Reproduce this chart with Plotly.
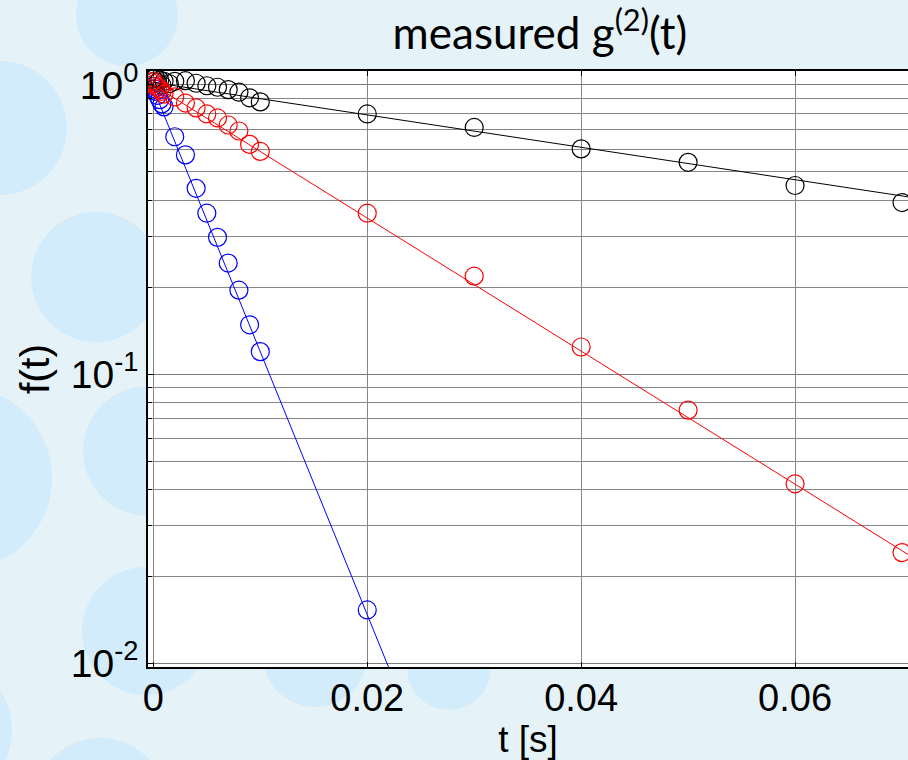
import plotly.graph_objects as go

# ---------------- data ----------------
t_black = [0, 0.0001, 0.0002, 0.0004, 0.0006, 0.0008, 0.001, 0.0015, 0.002,
           0.003, 0.004, 0.005, 0.006, 0.007, 0.008, 0.009, 0.010,
           0.02, 0.03, 0.04, 0.05, 0.06, 0.07]
f_black = [1.05, 1.03, 1.06, 1.02, 1.04, 1.00, 1.03, 1.01, 1.03,
           1.035, 1.014, 0.994, 0.982, 0.964, 0.944, 0.903, 0.874,
           0.794, 0.713, 0.601, 0.540, 0.449, 0.392]

t_red = [0, 0.0001, 0.0002, 0.0004, 0.0006, 0.0008, 0.001,
         0.002, 0.003, 0.004, 0.005, 0.006, 0.007, 0.008, 0.009, 0.010,
         0.02, 0.03, 0.04, 0.05, 0.06, 0.07]
f_red = [1.03, 1.01, 0.99, 0.98, 0.97, 0.95, 0.93,
         0.909, 0.866, 0.833, 0.794, 0.769, 0.727, 0.693, 0.623, 0.589,
         0.360, 0.218, 0.124, 0.0750, 0.0417, 0.0241]

t_blue = [0, 0.0001, 0.0002, 0.0004, 0.0006, 0.0008, 0.001,
          0.002, 0.003, 0.004, 0.005, 0.006, 0.007, 0.008, 0.009, 0.010,
          0.02]
f_blue = [0.99, 0.97, 0.95, 0.92, 0.89, 0.86, 0.84,
          0.662, 0.573, 0.439, 0.360, 0.297, 0.242, 0.195, 0.148, 0.1195,
          0.01526]

# fitted lines (end points)
fit_t_black = [0, 0.0706]
fit_f_black = [1.02, 0.41]
fit_t_red = [0, 0.0706]
fit_f_red = [1.0, 0.0237]
fit_t_blue = [0, 0.0225]
fit_f_blue = [0.97, 0.0087]

x_ticks = [0, 0.02, 0.04, 0.06]
x_ticktext = ["0", "0.02", "0.04", "0.06"]
y_decades = [0.01, 0.1, 1]
y_decade_text = ["10<sup>-2</sup>", "10<sup>-1</sup>", "10<sup>0</sup>"]
y_minor_mult = [2, 3, 4, 5, 6, 7, 8, 9]

# ---------------- layout geometry ----------------
W, H = 908, 760
ML, MR, MT, MB = 148, 0, 71, 93
PW, PH = W - ML - MR, H - MT - MB

fig = go.Figure()

series = [
    (fit_t_blue, fit_f_blue, t_blue, f_blue, "#0000ff"),
    (fit_t_black, fit_f_black, t_black, f_black, "#000000"),
    (fit_t_red, fit_f_red, t_red, f_red, "#ff0000"),
]
for ft, ff, tt, vv, col in series:
    fig.add_trace(go.Scatter(x=ft, y=ff, mode="lines",
                             line=dict(color=col, width=1), showlegend=False,
                             hoverinfo="skip"))
    fig.add_trace(go.Scatter(x=tt, y=vv, mode="markers",
                             marker=dict(symbol="circle-open", size=18,
                                         color=col, line=dict(width=1.2, color=col)),
                             showlegend=False))

# minor y tick values: 2..9 x each decade below 1
y_minor = [round(d * k, 6) for d in y_decades[:-1] for k in y_minor_mult]

# background decorative circles (pixel centre, radius)
circles = [(127, 15, 51), (0, 128, 67), (96, 277, 65), (-40, 478, 92),
           (148, 451, 65), (146, 631, 64), (-60, 730, 72), (100, 805, 67),
           (315, 655, 52), (449, 668, 42)]


def px2paper_x(px):
    return (px - ML) / PW


def px2paper_y(py):
    return (H - MB - py) / PH


shapes = []
for cx, cy, r in circles:
    shapes.append(dict(type="circle", xref="paper", yref="paper",
                       x0=px2paper_x(cx - r), x1=px2paper_x(cx + r),
                       y0=px2paper_y(cy + r), y1=px2paper_y(cy - r),
                       fillcolor="#d2ecfb", line=dict(width=0), layer="below"))
shapes.append(dict(type="rect", xref="paper", yref="paper", x0=0, x1=1, y0=0, y1=1,
                   fillcolor="white", line=dict(width=0), layer="below"))

fig.update_layout(
    width=W, height=H,
    margin=dict(l=ML, r=MR, t=MT, b=MB, pad=0),
    paper_bgcolor="#e5f3f8",
    plot_bgcolor="white",
    shapes=shapes,
    title=dict(text="measured g<sup>(2)</sup>(t)", x=540 / W, xref="container",
               xanchor="center", y=1 - 34 / H, yref="container", yanchor="middle",
               font=dict(family="Lato", size=44, color="black")),
    font=dict(family="Liberation Sans", color="black"),
)

fig.update_xaxes(
    range=[-0.0005, 0.07056],
    tickvals=x_ticks, ticktext=x_ticktext,
    tickfont=dict(family="Liberation Sans", size=38, color="black"),
    ticks="inside", ticklen=5, tickcolor="black", tickwidth=1,
    showline=True, linecolor="black", linewidth=1.5, mirror="ticks",
    showgrid=True, gridcolor="#858585", gridwidth=1,
    zeroline=False,
    ticklabelstandoff=-3,
    title=dict(text="t [s]", font=dict(family="Liberation Sans", size=37, color="black"),
               standoff=2),
)
fig.update_yaxes(
    type="log",
    range=[-2.0138, 0.0484],
    tickvals=y_decades, ticktext=y_decade_text,
    tickfont=dict(family="Liberation Sans", size=39, color="black"),
    ticks="inside", ticklen=6, tickcolor="black", tickwidth=1,
    showline=True, linecolor="black", linewidth=1.5, mirror=False,
    showgrid=True, gridcolor="#7a7a7a", gridwidth=1,
    minor=dict(tickvals=y_minor, ticks="inside", ticklen=4, tickcolor="black",
               tickwidth=1, showgrid=True, gridcolor="#858585", gridwidth=1),
    zeroline=False,
    ticklabelstandoff=0,
    title=dict(text="f(t)", font=dict(family="Liberation Sans", size=41, color="black"),
               standoff=8),
)

fig.write_html("out.html")
